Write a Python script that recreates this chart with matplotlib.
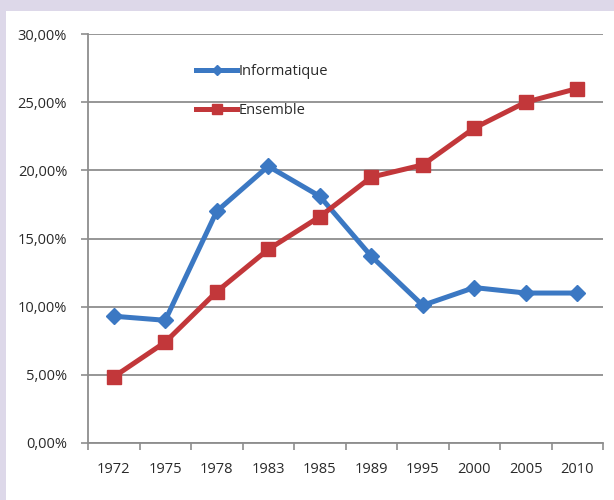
import matplotlib.pyplot as plt
from matplotlib.ticker import FuncFormatter
import numpy as np

# ── Data ──────────────────────────────────────────────────────────────────────
years = ["1972", "1975", "1978", "1983", "1985", "1989", "1995", "2000", "2005", "2010"]
informatique = [9.3, 9.0, 17.0, 20.3, 18.1, 13.7, 10.1, 11.4, 11.0, 11.0]
ensemble = [4.85, 7.4, 11.1, 14.2, 16.6, 19.5, 20.4, 23.1, 25.0, 26.0]
y_ticks = [0, 5, 10, 15, 20, 25, 30]

plt.rcParams["font.family"] = ["Open Sans", "DejaVu Sans"]

BLUE = "#3b78c3"
RED = "#c2373a"
GRID = "#8e8e8e"
TXT = "#2a2a2a"

fig = plt.figure(figsize=(6.14, 5.0), dpi=100, facecolor="#ddd8e9")

# white panel behind the chart
fig.patches.append(plt.Rectangle((6 / 614, 0), 1, 1 - 11 / 500,
                                 transform=fig.transFigure, facecolor="white",
                                 edgecolor="none", zorder=-1))

ax = fig.add_axes([88 / 614, 57 / 500, 515 / 614, 409 / 500], zorder=1)
ax.set_facecolor("none")

x = np.arange(len(years))
ax.plot(x, informatique, color=BLUE, lw=3.6, marker="D", ms=8,
        label="Informatique", zorder=3)
ax.plot(x, ensemble, color=RED, lw=3.6, marker="s", ms=10,
        label="Ensemble", zorder=3)

ax.set_xlim(-0.5, len(years) - 0.5)
ax.set_ylim(0, 30)
ax.set_yticks(y_ticks)
ax.yaxis.set_major_formatter(FuncFormatter(lambda v, _: f"{v:.2f}%".replace(".", ",")))
ax.set_xticks(x)
ax.set_xticklabels(years)
ax.set_xticks(np.arange(len(years) + 1) - 0.5, minor=True)
ax.tick_params(axis="x", which="major", length=0, pad=14, labelsize=10.5, colors=TXT)
ax.tick_params(axis="x", which="minor", length=5, color=GRID, width=1.2)
ax.tick_params(axis="y", length=5, color=GRID, width=1.2, pad=10,
               labelsize=10.5, colors=TXT)

ax.grid(axis="y", color=GRID, lw=1.3, zorder=0)
for s in ["top", "right"]:
    ax.spines[s].set_visible(False)
for s in ["left", "bottom"]:
    ax.spines[s].set_color(GRID)
    ax.spines[s].set_linewidth(1.3)

leg = ax.legend(loc="upper left", bbox_to_anchor=(0.185, 0.958), frameon=False,
                fontsize=10.5, handlelength=2.8, handletextpad=0.1,
                labelspacing=1.6, markerscale=0.65)
for t in leg.get_texts():
    t.set_color(TXT)

plt.savefig("out.png", dpi=100, facecolor=fig.get_facecolor())
